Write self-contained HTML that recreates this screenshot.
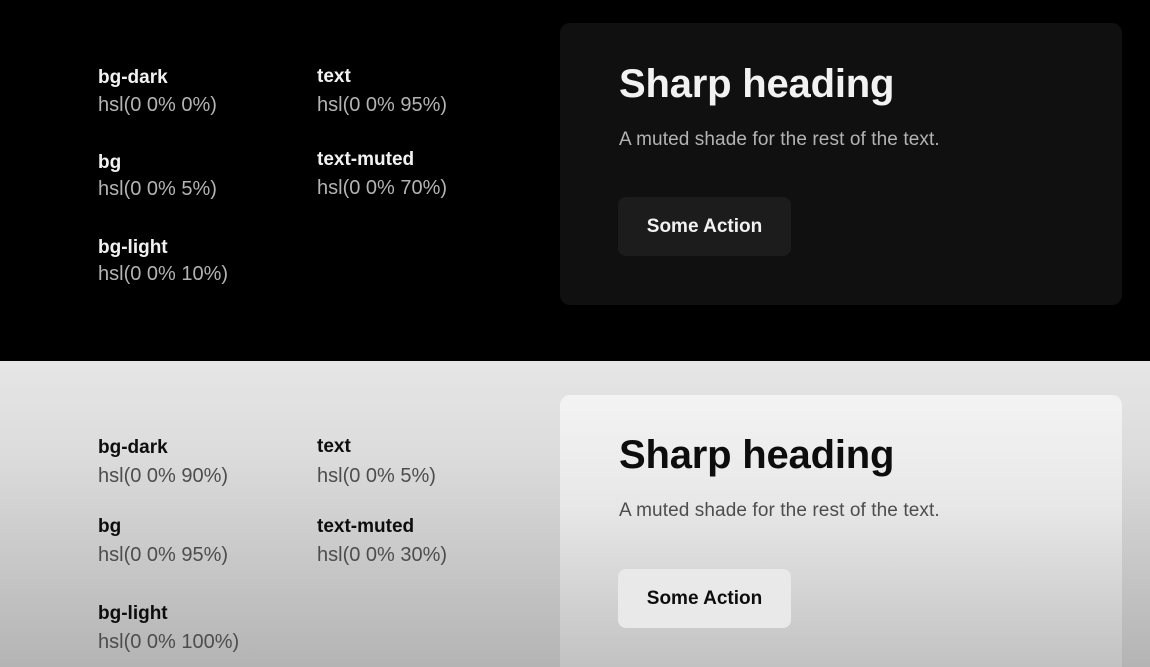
<!DOCTYPE html>
<html><head><meta charset="utf-8"><style>
*{margin:0;padding:0;box-sizing:border-box}
html,body{width:1150px;height:667px;overflow:hidden}
body{font-family:"Liberation Sans",sans-serif;position:relative;background:#000}
.top{position:absolute;left:0;top:0;width:1150px;height:361px;background:#000}
.bot{position:absolute;left:0;top:361px;width:1150px;height:306px;background:linear-gradient(#e6e6e6,#dcdcdc 30%,#b4b4b4)}
.a{position:absolute;white-space:nowrap}
.l{font-size:19px;font-weight:bold;line-height:22px}
.v{font-size:20px;line-height:22px}
.card{position:absolute;left:560px;width:562px;border-radius:10px}
.h{font-size:40px;font-weight:bold;line-height:48px;letter-spacing:-0.2px}
.p{font-size:19px;line-height:24px;letter-spacing:0.1px}
.btn{position:absolute;left:618px;width:173px;height:59px;border-radius:8px;font-size:19px;font-weight:bold;text-align:center;line-height:59px}
</style></head><body>
<div class="top"></div>
<div class="bot"></div>
<div class="card" style="top:23px;height:282px;background:#101010"></div>
<div class="card" style="top:395px;height:272px;border-radius:10px 10px 0 0;background:linear-gradient(#f3f3f3,#e8e8e8 40%,#c2c2c2)"></div>

<div class="a l" style="left:98px;top:67px;color:#f2f2f2">bg-dark</div>
<div class="a v" style="left:98px;top:94px;color:#b3b3b3">hsl(0 0% 0%)</div>
<div class="a l" style="left:98px;top:152px;color:#f2f2f2">bg</div>
<div class="a v" style="left:98px;top:178px;color:#b3b3b3">hsl(0 0% 5%)</div>
<div class="a l" style="left:98px;top:237px;color:#f2f2f2">bg-light</div>
<div class="a v" style="left:98px;top:263px;color:#b3b3b3">hsl(0 0% 10%)</div>
<div class="a l" style="left:317px;top:66px;color:#f2f2f2">text</div>
<div class="a v" style="left:317px;top:94px;color:#b3b3b3">hsl(0 0% 95%)</div>
<div class="a l" style="left:317px;top:149px;color:#f2f2f2">text-muted</div>
<div class="a v" style="left:317px;top:177px;color:#b3b3b3">hsl(0 0% 70%)</div>

<div class="a h" style="left:619px;top:60px;color:#f2f2f2">Sharp heading</div>
<div class="a p" style="left:619px;top:128px;color:#b3b3b3">A muted shade for the rest of the text.</div>
<div class="btn" style="top:197px;background:#1c1c1c;color:#f2f2f2">Some Action</div>

<div class="a l" style="left:98px;top:437px;color:#0d0d0d">bg-dark</div>
<div class="a v" style="left:98px;top:465px;color:#4d4d4d">hsl(0 0% 90%)</div>
<div class="a l" style="left:98px;top:516px;color:#0d0d0d">bg</div>
<div class="a v" style="left:98px;top:544px;color:#4d4d4d">hsl(0 0% 95%)</div>
<div class="a l" style="left:98px;top:603px;color:#0d0d0d">bg-light</div>
<div class="a v" style="left:98px;top:631px;color:#4d4d4d">hsl(0 0% 100%)</div>
<div class="a l" style="left:317px;top:436px;color:#0d0d0d">text</div>
<div class="a v" style="left:317px;top:465px;color:#4d4d4d">hsl(0 0% 5%)</div>
<div class="a l" style="left:317px;top:516px;color:#0d0d0d">text-muted</div>
<div class="a v" style="left:317px;top:544px;color:#4d4d4d">hsl(0 0% 30%)</div>

<div class="a h" style="left:619px;top:431px;color:#0d0d0d">Sharp heading</div>
<div class="a p" style="left:619px;top:499px;color:#4d4d4d">A muted shade for the rest of the text.</div>
<div class="btn" style="top:569px;background:#e9e9e9;color:#0d0d0d">Some Action</div>
</body></html>
